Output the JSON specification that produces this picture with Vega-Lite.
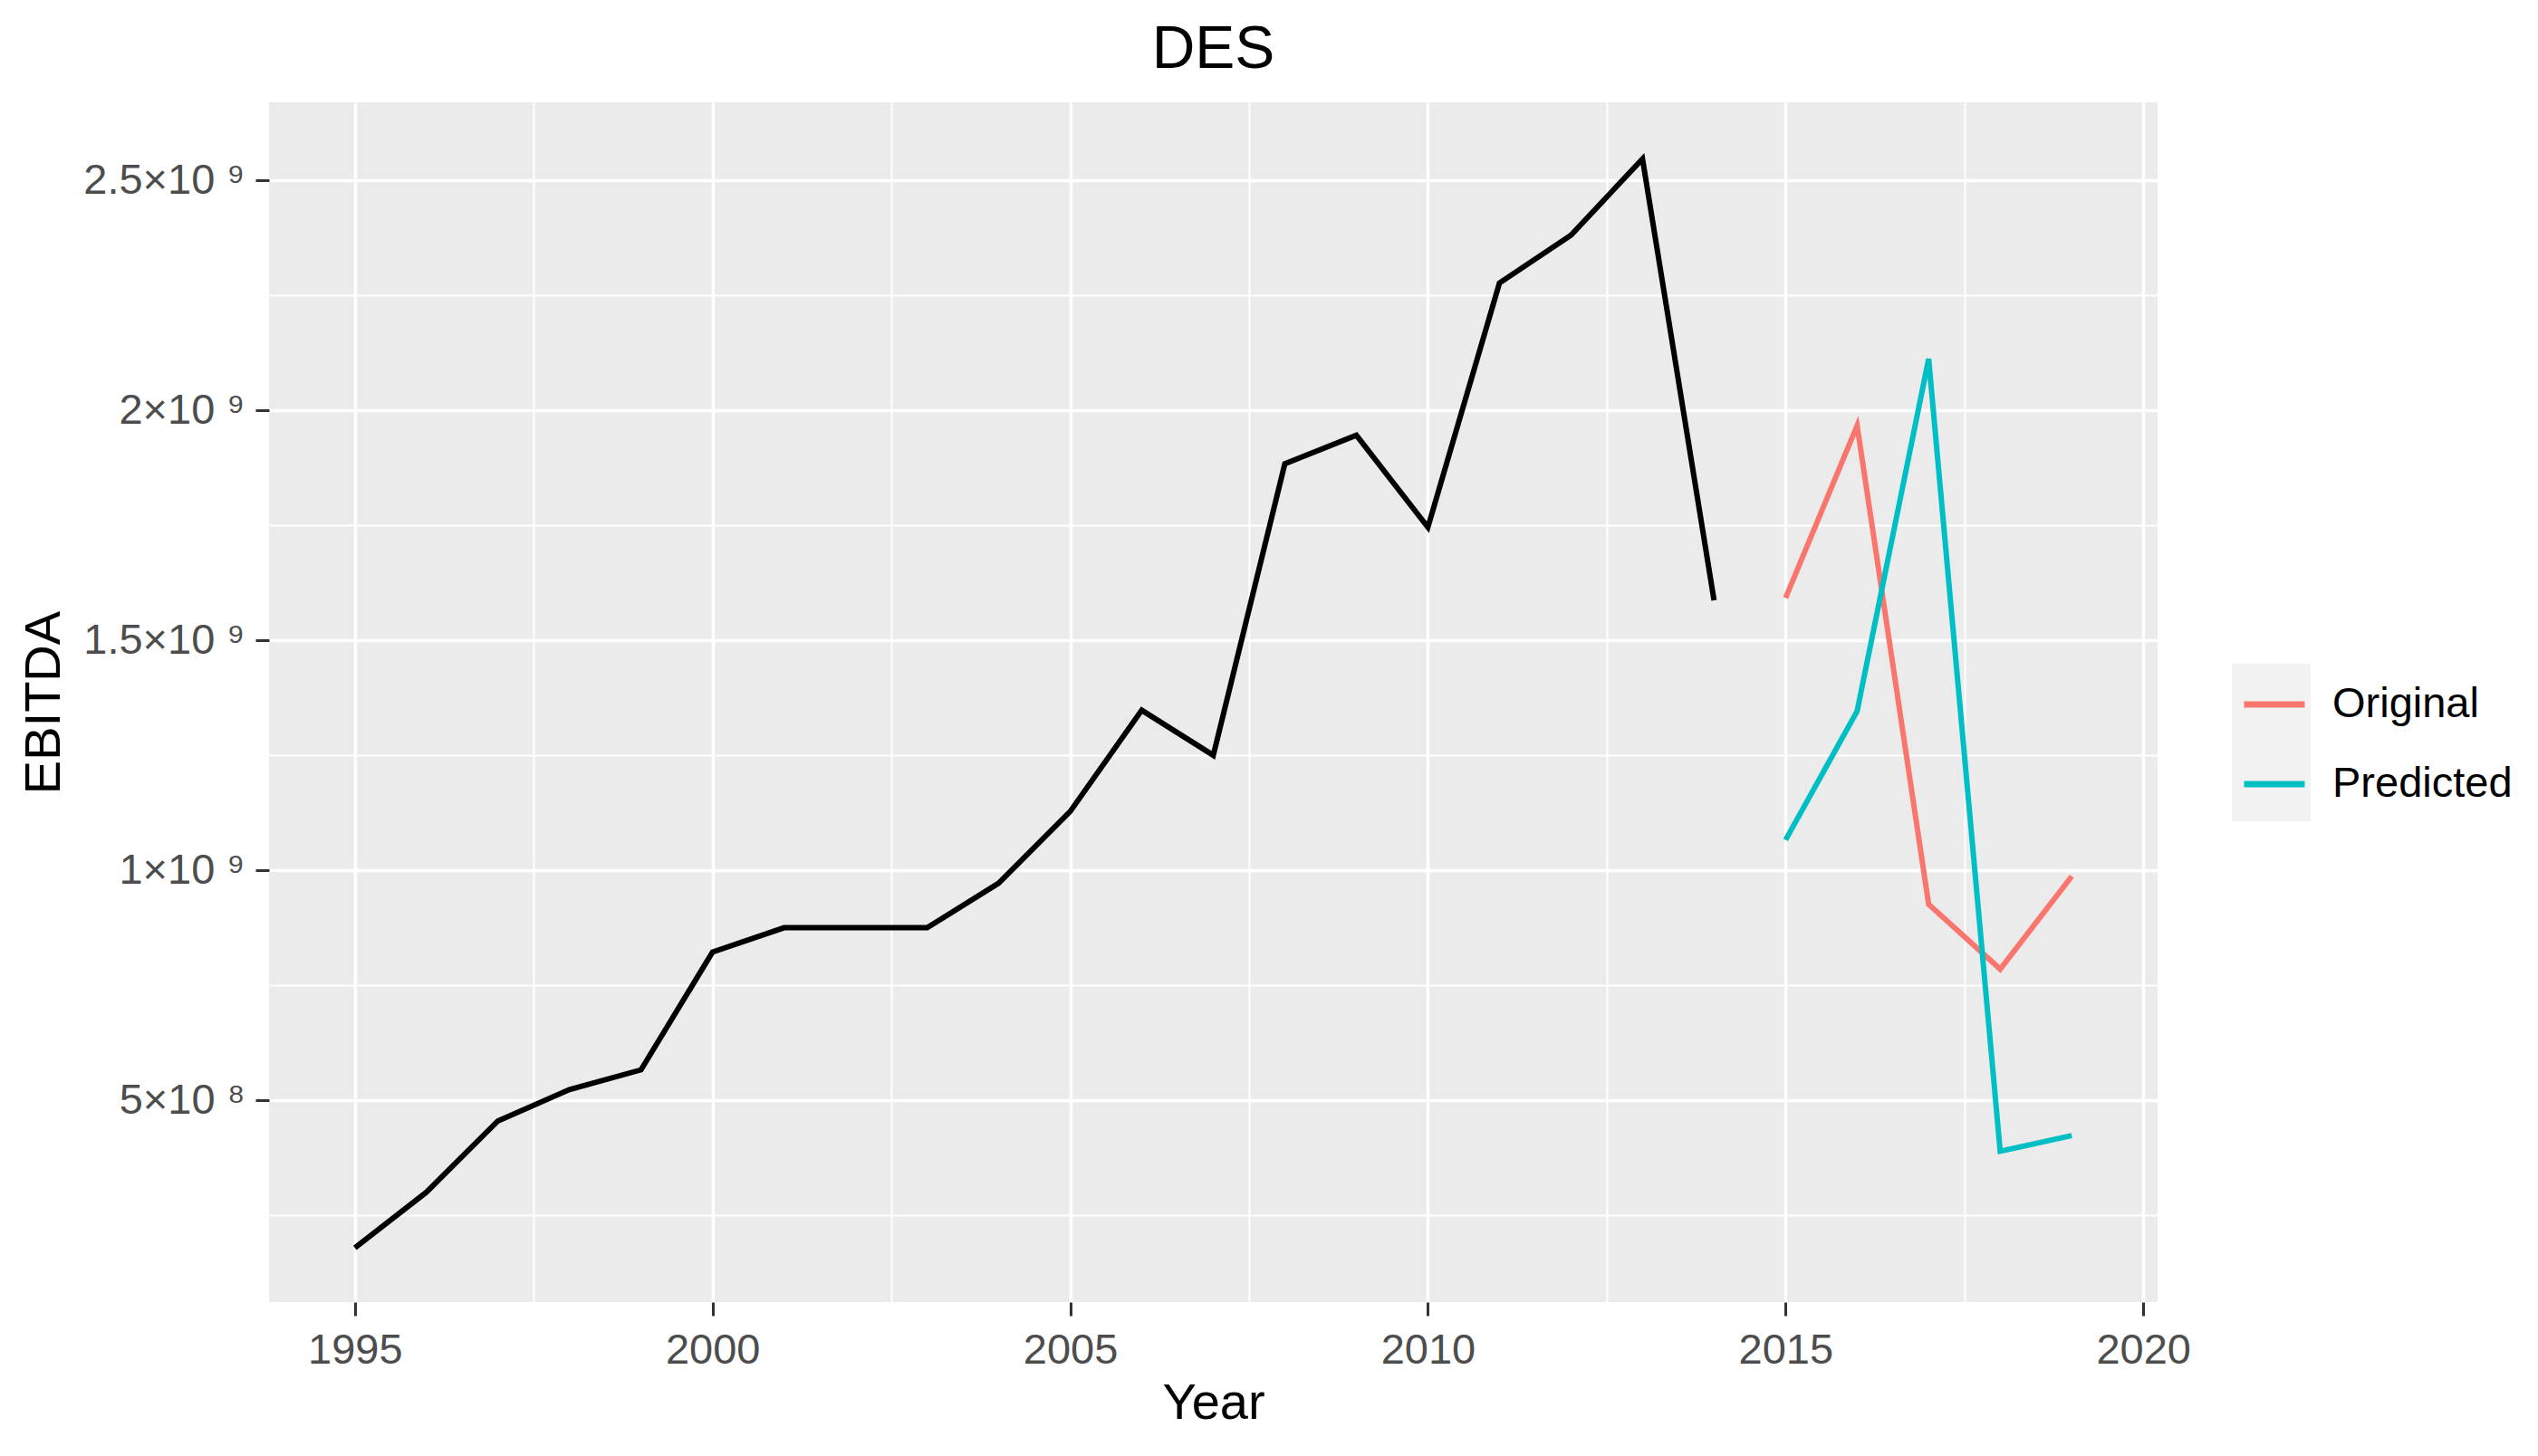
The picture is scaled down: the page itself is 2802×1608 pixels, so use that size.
{
  "$schema": "https://vega.github.io/schema/vega-lite/v6.json",
  "width": 2085,
  "height": 1325,
  "autosize": {"type": "none"},
  "padding": {"left": 297, "top": 113, "right": 420, "bottom": 170},
  "background": "white",
  "view": {"fill": "#EBEBEB", "stroke": null},
  "config": {"font": "Liberation Sans"},
  "title": {"text": "DES", "fontSize": 66, "font": "Liberation Sans", "fontWeight": "normal", "color": "black", "anchor": "middle", "frame": "group", "offset": 24},
  "data": {"values": [
    {"year": 1995, "value": 179000000, "series": "History"},
    {"year": 1996, "value": 300000000, "series": "History"},
    {"year": 1997, "value": 455000000, "series": "History"},
    {"year": 1998, "value": 523000000, "series": "History"},
    {"year": 1999, "value": 566000000, "series": "History"},
    {"year": 2000, "value": 822000000, "series": "History"},
    {"year": 2001, "value": 875000000, "series": "History"},
    {"year": 2002, "value": 875000000, "series": "History"},
    {"year": 2003, "value": 875000000, "series": "History"},
    {"year": 2004, "value": 972000000, "series": "History"},
    {"year": 2005, "value": 1128000000, "series": "History"},
    {"year": 2006, "value": 1348000000, "series": "History"},
    {"year": 2007, "value": 1250000000, "series": "History"},
    {"year": 2008, "value": 1884000000, "series": "History"},
    {"year": 2009, "value": 1946000000, "series": "History"},
    {"year": 2010, "value": 1746000000, "series": "History"},
    {"year": 2011, "value": 2277000000, "series": "History"},
    {"year": 2012, "value": 2381000000, "series": "History"},
    {"year": 2013, "value": 2547000000, "series": "History"},
    {"year": 2014, "value": 1587000000, "series": "History"},
    {"year": 2015, "value": 1592000000, "series": "Original"},
    {"year": 2016, "value": 1967000000, "series": "Original"},
    {"year": 2017, "value": 926000000, "series": "Original"},
    {"year": 2018, "value": 785000000, "series": "Original"},
    {"year": 2019, "value": 987000000, "series": "Original"},
    {"year": 2015, "value": 1066000000, "series": "Predicted"},
    {"year": 2016, "value": 1346000000, "series": "Predicted"},
    {"year": 2017, "value": 2112000000, "series": "Predicted"},
    {"year": 2018, "value": 389000000, "series": "Predicted"},
    {"year": 2019, "value": 423000000, "series": "Predicted"}
  ]},
  "resolve": {"axis": {"x": "independent", "y": "independent"}},
  "layer": [
    {
      "transform": [{"filter": "datum.series !== 'History'"}],
      "mark": {"type": "point", "filled": true, "opacity": 0},
      "encoding": {
        "x": {"field": "year", "type": "quantitative",
              "scale": {"domain": [1993.8, 2020.2], "nice": false, "zero": false},
              "axis": {"orient": "bottom", "values": [1997.5, 2002.5, 2007.5, 2012.5, 2017.5], "grid": true, "gridColor": "white", "gridWidth": 2, "gridOpacity": 1, "labels": false, "ticks": false, "domain": false, "title": null}},
        "y": {"field": "value", "type": "quantitative",
              "scale": {"domain": [61000000, 2670000000], "nice": false, "zero": false},
              "axis": {"orient": "left", "values": [250000000, 750000000, 1250000000, 1750000000, 2250000000], "grid": true, "gridColor": "white", "gridWidth": 2, "gridOpacity": 1, "labels": false, "ticks": false, "domain": false, "title": null}},
        "fill": {"field": "series", "type": "nominal",
                 "scale": {"range": ["#F2F2F2", "#F2F2F2"]},
                 "legend": {"orient": "none", "legendX": 2167, "legendY": 620, "title": null, "symbolType": "square", "symbolSize": 7569, "symbolOpacity": 1, "symbolStrokeWidth": 0, "labelOpacity": 0, "labelFontSize": 47, "labelLimit": 400, "rowPadding": 0, "padding": 0, "labelOffset": 26}}
      }
    },
    {
      "transform": [{"filter": "datum.series === 'History'"}],
      "mark": {"type": "line", "color": "black", "strokeWidth": 6},
      "encoding": {
        "x": {"field": "year", "type": "quantitative",
              "axis": {"orient": "bottom", "values": [1995, 2000, 2005, 2010, 2015, 2020], "grid": true, "gridColor": "white", "gridWidth": 3.5, "gridOpacity": 1, "domain": false, "ticks": true, "tickSize": 15, "tickWidth": 3, "tickColor": "#333333", "labelFontSize": 47, "labelColor": "#4D4D4D", "labelPadding": 15, "labelFont": "Liberation Sans", "format": "d", "title": "Year", "titleFontSize": 56, "titleFont": "Liberation Sans", "titleFontWeight": "normal", "titleColor": "black", "titlePadding": 8}},
        "y": {"field": "value", "type": "quantitative",
              "axis": {"orient": "left", "values": [500000000, 1000000000, 1500000000, 2000000000, 2500000000], "grid": true, "gridColor": "white", "gridWidth": 3.5, "gridOpacity": 1, "domain": false, "ticks": true, "tickSize": 15, "tickWidth": 3, "tickColor": "#333333", "labelFontSize": 47, "labelColor": "#4D4D4D", "labelPadding": 12, "labelFont": "Liberation Sans",
                       "labelExpr": "datum.value >= 1e9 ? (datum.value/1e9) + '×10 ⁹' : (datum.value/1e8) + '×10 ⁸'",
                       "title": "EBITDA", "titleFontSize": 56, "titleFont": "Liberation Sans", "titleFontWeight": "normal", "titleColor": "black", "titlePadding": 20}}
      }
    },
    {
      "transform": [{"filter": "datum.series !== 'History'"}],
      "mark": {"type": "line", "strokeWidth": 6},
      "encoding": {
        "x": {"field": "year", "type": "quantitative", "axis": null},
        "y": {"field": "value", "type": "quantitative", "axis": null},
        "color": {"field": "series", "type": "nominal",
                  "scale": {"domain": ["Original", "Predicted"], "range": ["#F8766D", "#00BFC4"]},
                  "legend": {"orient": "none", "legendX": 2177, "legendY": 628, "title": null, "symbolType": "stroke", "symbolSize": 4489, "symbolStrokeWidth": 7, "labelFontSize": 47, "labelColor": "black", "labelFont": "Liberation Sans", "labelLimit": 400, "rowPadding": 28, "padding": 0, "labelOffset": 27}}
      }
    }
  ]
}
